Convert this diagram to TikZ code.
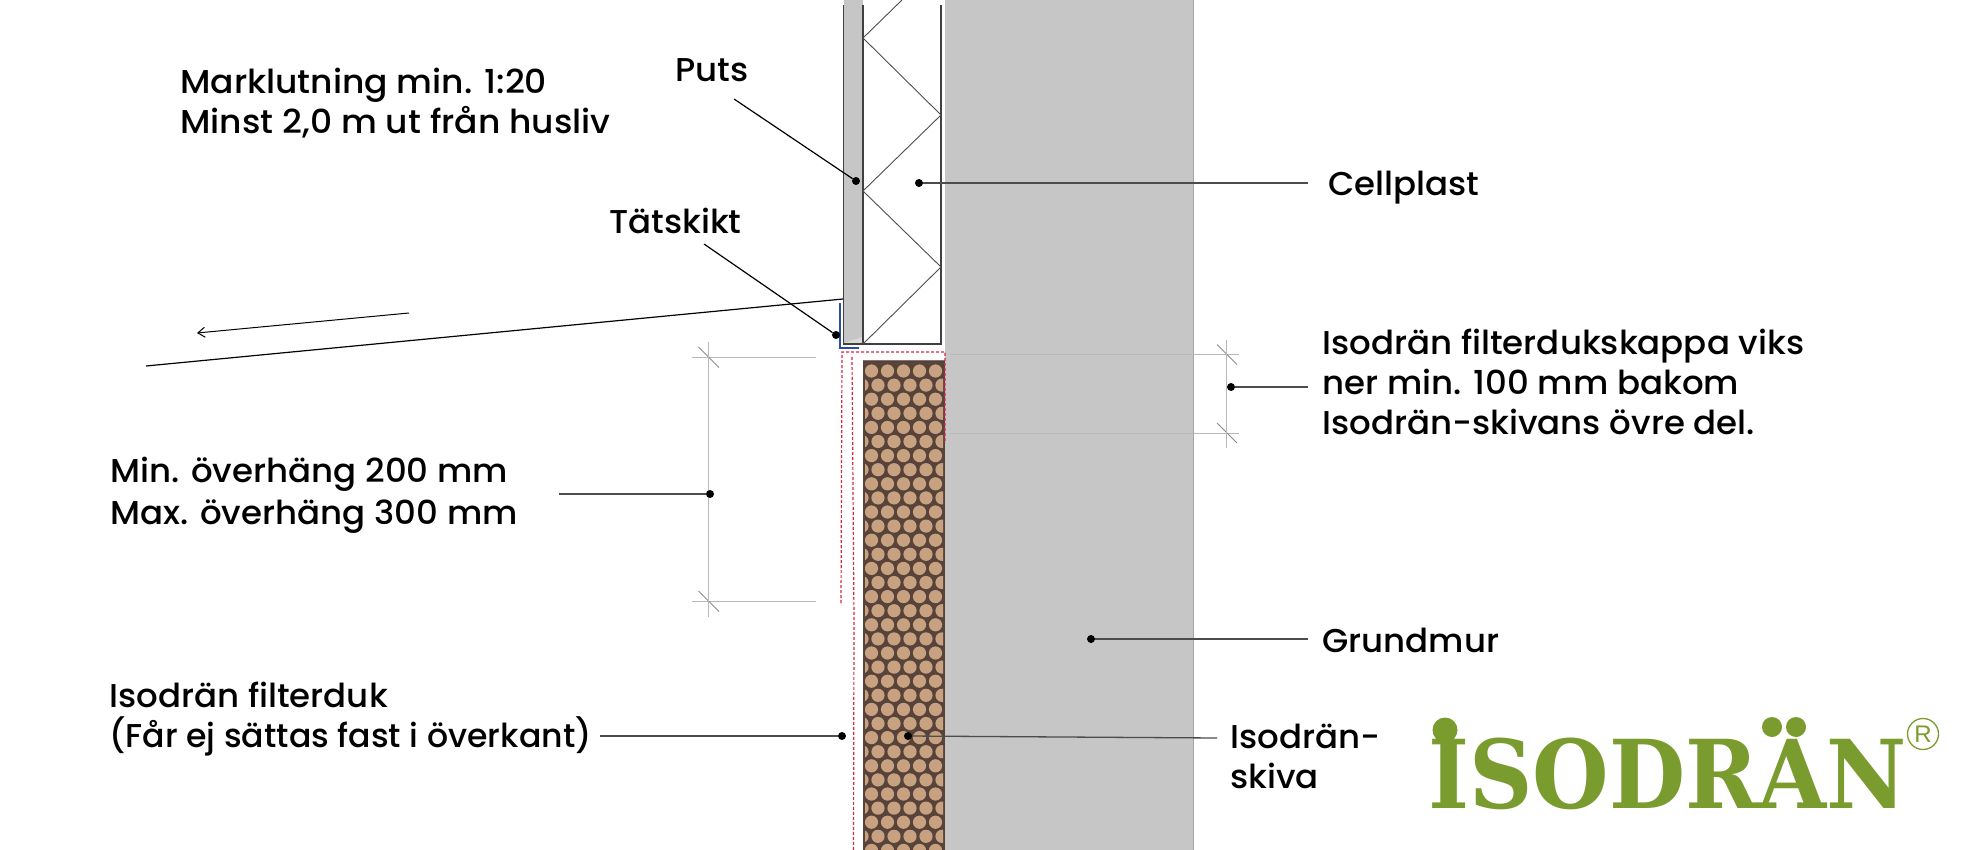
\documentclass[tikz,border=0pt]{standalone}
\usepackage{fontspec}
\setmainfont[FakeStretch=1.03,UprightFont=* Medium]{Poppins}
\newfontfamily\logofont{DejaVu Serif}
\newfontfamily\regfont{Liberation Sans}
\usetikzlibrary{arrows.meta}
\definecolor{wallgrey}{HTML}{C6C6C6}
\definecolor{boarddark}{HTML}{57433A}
\definecolor{boardball}{HTML}{C8A280}
\definecolor{logogreen}{HTML}{7A9C2E}
\definecolor{foilblue}{HTML}{2B4F9E}
\definecolor{clothred}{HTML}{D5274A}
\tikzset{
  labeltext/.style={anchor=base west, inner sep=0pt, text=black, font=\fontsize{33}{33}\selectfont},
  leaderdot/.style={circle, fill=black, inner sep=0pt, minimum size=8pt},
  leader/.style={line width=1.3pt, black!70},
  outline/.style={line width=1.4pt, black!75},
  dimline/.style={line width=1pt, black!28},
  dimtick/.style={line width=1pt, black!45},
  clothline/.style={line width=1.2pt, clothred, dash pattern=on 3pt off 2pt}
}
\begin{document}
\begin{tikzpicture}[x=1pt,y=-1pt]
  \useasboundingbox (0,0) rectangle (1962,850);

	%wall and plaster
  \fill[wallgrey] (945,0) rectangle (1193,850);
  \draw[line width=0.8pt, black!35] (1193,0) -- (1193,850);
  \fill[wallgrey] (844,0) rectangle (863,344);
  \fill[white!85!black] (845,343) -- (862,343) -- (862,337) .. controls (856,340) and (850,340) .. (845,343) -- cycle;
  \draw[outline] (843.5,5) -- (843.5,344) -- (941,344) -- (941,5);
  \draw[outline] (863,5) -- (863,344);

	%insulation zigzag
  \draw[line width=0.9pt, black!70] (902,0) -- (863,38) -- (941,115) -- (863,191) -- (941,267) -- (863,344);

	%board
  \fill[boarddark] (863,360) rectangle (945,850);
  \draw[line width=1pt, boarddark!75!white] (863,360.5) -- (945,360.5);
  \begin{scope}
    \clip (865,362) rectangle (943,850);
    \foreach \r in {0,...,34}{
      \pgfmathsetmacro{\rowy}{371+14.1*\r}
      \pgfmathsetmacro{\rowx}{871.5-9.5*Mod(\r,2)}
      \foreach \c in {0,...,5}{
        \fill[boardball] (\rowx+16*\c,\rowy) circle (6.6);
      }
    }
  \end{scope}

	%foil and filter cloth
  \draw[line width=2pt, foilblue] (840,303) -- (840,348) -- (859,348);
  \draw[clothline] (841,603) -- (842,352) -- (945,352) -- (945,443);
  \draw[clothline] (852,357) -- (854,620) -- (853.5,850);

	%ground
  \draw[line width=1.2pt, black] (146,366) -- (843,299);
  \coordinate (slopestart) at (409,313);
  \coordinate (slopeend) at (197,333);
  \draw[line width=1pt, black, -{Straight Barb[length=7pt,width=10pt]}] (slopestart) -- (slopeend);

	%dimensions
  \foreach \y in {357,601}{
    \draw[dimline] (692,\y) -- (816,\y);
    \draw[dimtick] (698.5,\y-10) -- (719,\y+10.5);
  }
  \draw[dimline] (708,342) -- (708,617);
  \foreach \y in {354.5,433}{
    \draw[dimline] (950,\y) -- (1239,\y);
    \draw[dimtick] (1217,\y-10) -- (1237,\y+10);
  }
  \draw[dimline] (1226,340) -- (1226,448);

	%labels
  \foreach \x/\y/\txt/\name in {675/82/Puts/puts, 609/234/Tätskikt/tat, 1328/196/Cellplast/cell,
      1322/354/Isodrän filterdukskappa viks/kappa1, 1322/394/ner min. 100 mm bakom/kappa2, 1322/434/Isodrän-skivans övre del./kappa3,
      110/482/Min. överhäng 200 mm/over1, 110/524/Max. överhäng 300 mm/over2,
      109/707/Isodrän filterduk/duk1,
      1322/652/Grundmur/mur, 1230/748/Isodrän-/skiva1, 1230/788/skiva/skiva2}{
    \node[labeltext] (\name) at (\x,\y) {\txt};
  }
  \node[labeltext, xscale=1.015] (slope1) at (180,94) {Marklutning min. 1:20};
  \node[labeltext, xscale=1.015] (slope2) at (180,134) {Minst 2,0 m ut från husliv};
  \node[labeltext, xscale=0.975] (duk2) at (109,747) {(Får ej sättas fast i överkant)};

	%leaders
  \foreach \x/\y/\name in {856/181/dotputs, 836/335/dottat, 919/183/dotcell, 1231/387/dotkappa,
      710/494/dotover, 842/736/dotduk, 1091/639/dotmur, 908/736/dotskiva}{
    \node[leaderdot] (\name) at (\x,\y) {};
  }
  \coordinate (endputs) at (734,99);
  \coordinate (endtat) at (704,244);
  \coordinate (endcell) at (1308,183);
  \coordinate (endkappa) at (1308,387);
  \coordinate (endover) at (559,494);
  \coordinate (endduk) at (600,736);
  \coordinate (endmur) at (1308,639);
  \coordinate (endskiva) at (1217,738);
  \draw[line width=1.2pt, black] (endputs) -- (dotputs);
  \draw[line width=1.2pt, black] (endtat) -- (dottat);
  \foreach \a/\b in {dotcell/endcell, dotkappa/endkappa, endover/dotover, endduk/dotduk, dotmur/endmur, dotskiva/endskiva}{
    \draw[leader] (\a) -- (\b);
  }

	%logo
  \node[anchor=base west, inner sep=0pt, text=logogreen, font=\logofont\bfseries\fontsize{95}{95}\selectfont, xscale=0.925] (logo) at (1428,808) {ISODRÄN};
  \fill[white] (1750,705) rectangle (1825,738);
  \foreach \x/\y/\rad in {1445/730/12.5, 1772/727/10, 1796/727/10}{
    \fill[logogreen] (\x,\y) circle (\rad);
  }
  \node[circle, draw=logogreen, line width=1.3pt, text=logogreen, inner sep=0pt, minimum size=31pt, font=\regfont\fontsize{24}{24}\selectfont] (regmark) at (1923,734) {R};

\end{tikzpicture}
\end{document}
